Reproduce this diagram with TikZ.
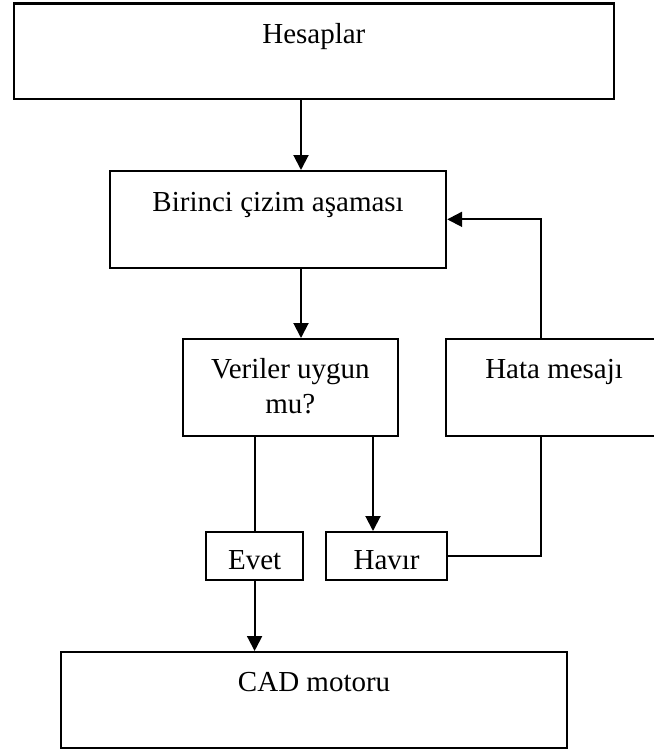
\documentclass[tikz,border=0pt]{standalone}
\usepackage{fontspec}
\setmainfont{Liberation Serif}
\usetikzlibrary{arrows.meta,calc}
\definecolor{ink}{RGB}{0,0,0}
\tikzset{
  box/.style={draw=ink,line width=2.2pt,inner sep=0pt,text height=39pt,
    anchor=north west,font=\fontsize{29}{35}\selectfont,align=center},
  smallbox/.style={box,text height=37pt,text depth=11pt},
  arr/.style={-{Triangle[length=15pt,width=15pt]},line width=2pt,ink},
  wire/.style={line width=2pt,ink},
}
\begin{document}
\begin{tikzpicture}[x=1pt,y=-1pt]
  \useasboundingbox (0,0) rectangle (653,749);
  \node[box,minimum width=600.5pt,text height=39.5pt,text depth=56pt] (hes)
    at (12.5,2.5) {Hesaplar};
  \node[box,minimum width=336pt,text height=40pt,text depth=56.5pt] (bir)
    at (109,170) {Birinci çizim aşaması};
  \node[box,minimum width=215.5pt,text height=74pt,text depth=23pt] (ver)
    at (181.5,338) {Veriler uygun\\mu?};
  \node[box,minimum width=216pt,text depth=58pt] (hata)
    at (445,338) {Hata mesajı};
  \node[smallbox,minimum width=97pt] (evet) at (205,531) {Evet};
  \node[smallbox,minimum width=121pt] (havir) at (325,531) {Havır};
  \node[box,minimum width=506pt,text depth=57pt] (cad)
    at (60,651) {CAD motoru};
  \coordinate (xa) at (301,0);
  \coordinate (xb) at (373,0);
  \coordinate (xc) at (541,0);
  \draw[arr] (hes.south -| xa) -- (bir.north -| xa);
  \draw[arr] (bir.south -| xa) -- (ver.north -| xa);
  \draw[wire] (ver.south -| evet.north) -- (evet.north);
  \draw[arr] (evet.south) -- (cad.north -| evet.south);
  \draw[arr] (ver.south -| xb) -- (havir.north -| xb);
  \draw[wire] (havir.east) -| (hata.south -| xc);
  \draw[arr] (hata.north -| xc) |- (bir.east);
\end{tikzpicture}
\end{document}
